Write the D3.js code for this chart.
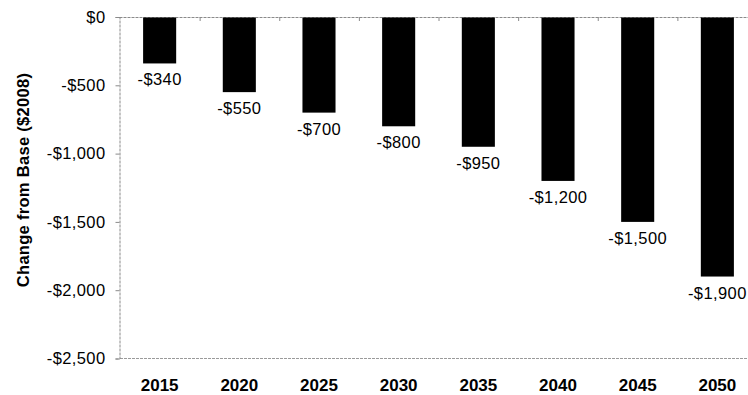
<!DOCTYPE html>
<html>
<head>
<meta charset="utf-8">
<script src="https://cdn.jsdelivr.net/npm/d3@7"></script>
<style>
  body { margin: 0; background: #fff; }
  svg { display: block; font-family: "Liberation Sans", Arial, sans-serif; }
  .axis path, .axis line { stroke: #8a8a8a; }
</style>
</head>
<body>
<div id="chart"></div>
<script>
// chart data
const years = ["2015", "2020", "2025", "2030", "2035", "2040", "2045", "2050"];
const changes = [-340, -550, -700, -800, -950, -1200, -1500, -1900];
const yTicks = [0, -500, -1000, -1500, -2000, -2500];

const width = 748, height = 395;

var svg = d3.select("#chart").append("svg")
    .attr("width", width)
    .attr("height", height);

//scales
var x = d3.scaleBand()
    .domain(years)
    .range([120, 757])
    .paddingInner(0.585)
    .paddingOuter(0.29);

var y = d3.scaleLinear()
    .domain([-2500, 0])
    .range([358.5, 17]);

var fmt = function(v) {
    return (v < 0 ? "-$" : "$") + d3.format(",")(Math.abs(v));
};

//bottom border line of plot
svg.append("line")
    .attr("x1", 120).attr("x2", width)
    .attr("y1", y(-2500)).attr("y2", y(-2500))
    .attr("stroke", "#9a9a9a")
    .attr("stroke-dasharray", "3,1");

//left axis
var yAxis = svg.append("g")
    .attr("class", "axis")
    .attr("transform", "translate(119.5,0)")
    .call(d3.axisLeft(y).tickValues(yTicks).tickFormat(fmt).tickSize(4).tickPadding(10));
yAxis.select(".domain").attr("stroke-dasharray", "3,1");
yAxis.selectAll("text")
    .attr("fill", "#000")
    .style("font-size", "16.5px")
    .style("letter-spacing", "0.4px");

//zero line with category ticks
var edges = years.map(function(d, i) { return 120 + i * (757 - 120) / years.length; });
svg.append("line")
    .attr("x1", 119.5).attr("x2", width)
    .attr("y1", y(0) + 0.5).attr("y2", y(0) + 0.5)
    .attr("stroke", "#8a8a8a")
    .attr("stroke-dasharray", "3,1");
svg.append("g")
    .selectAll("line")
    .data(edges.slice(1))
    .enter()
    .append("line")
    .attr("x1", function(d) { return d + 0.5; })
    .attr("x2", function(d) { return d + 0.5; })
    .attr("y1", y(0)).attr("y2", y(0) + 4)
    .attr("stroke", "#8a8a8a");

//bars
svg.append("g")
    .selectAll("rect")
    .data(changes)
    .enter()
    .append("rect")
    .attr("x", function(d, i) { return x(years[i]); })
    .attr("y", y(0) + 0.5)
    .attr("width", x.bandwidth())
    .attr("height", function(d) { return y(d) - y(0) - 0.5; })
    .attr("fill", "#000");

//value labels
svg.append("g")
    .selectAll("text")
    .data(changes)
    .enter()
    .append("text")
    .attr("x", function(d, i) { return x(years[i]) + x.bandwidth() / 2; })
    .attr("y", function(d) { return y(d) + 22; })
    .attr("text-anchor", "middle")
    .style("font-size", "16.5px")
    .style("letter-spacing", "0.4px")
    .text(fmt);

//category labels
svg.append("g")
    .selectAll("text")
    .data(years)
    .enter()
    .append("text")
    .attr("x", function(d) { return x(d) + x.bandwidth() / 2; })
    .attr("y", 391)
    .attr("text-anchor", "middle")
    .style("font-size", "17px")
    .style("font-weight", "bold")
    .text(function(d) { return d; });

//y-axis label
svg.append("text")
    .attr("transform", "translate(29,180) rotate(-90)")
    .attr("text-anchor", "middle")
    .style("font-size", "16.5px")
    .style("font-weight", "bold")
    .style("letter-spacing", "0.3px")
    .text("Change from Base ($2008)");
</script>
</body>
</html>
